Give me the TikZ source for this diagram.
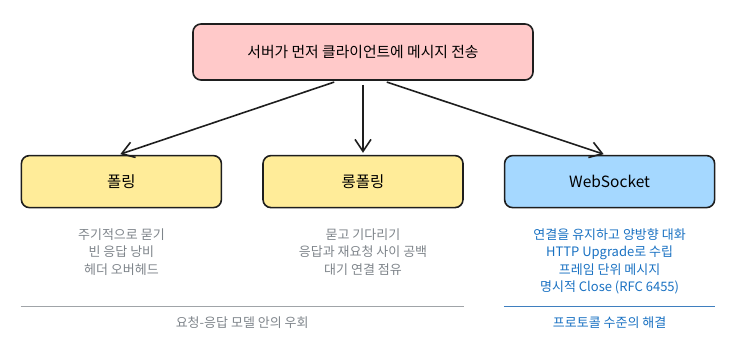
\documentclass[tikz,border=0pt]{standalone}
\usepackage{fontspec}
\setmainfont{Noto Sans CJK KR}
\usepackage{tikz}
\usetikzlibrary{positioning, calc, arrows.meta}

\definecolor{strokedark}{HTML}{1E1E1E}
\definecolor{pinkfill}{HTML}{FFC9C9}
\definecolor{yellowfill}{HTML}{FFEC99}
\definecolor{bluefill}{HTML}{A5D8FF}
\definecolor{graytext}{HTML}{7E848A}
\definecolor{bluetext}{HTML}{1971C2}
\definecolor{grayline}{HTML}{A0A4A8}
\definecolor{blueline}{HTML}{3F7FBF}

\begin{document}
\begin{tikzpicture}[
        x=1pt, y=1pt,
        node distance=74pt and 40pt,
        box_base/.style={rectangle, rounded corners=8pt, draw=strokedark, line width=1.6pt, align=center, minimum height=52pt, font=\fontsize{15.5}{18}\selectfont},
        box_top/.style={box_base, fill=pinkfill, minimum width=340pt, minimum height=56pt, font=\fontsize{14.8}{18}\selectfont},
        box_way/.style={box_base, fill=yellowfill, minimum width=200pt},
        box_ws/.style={box_base, fill=bluefill, minimum width=210pt},
        note_gray/.style={align=center, text=graytext, inner sep=0pt, font=\fontsize{13}{17.5}\selectfont},
        note_blue/.style={note_gray, text=bluetext},
        arrow/.style={-{Straight Barb[length=12pt, width=16pt]}, line width=1.6pt, draw=strokedark, shorten <=4pt, shorten >=2pt},
        divider/.style={line width=1.4pt, draw=grayline}
    ]
        \useasboundingbox (0,0) rectangle (738,-353);

        % --- NODES ---
        \node[box_top] (push) at (363,-52) {서버가 먼저 클라이언트에 메시지 전송};
        \node[box_way, below=of push] (longpoll) {롱폴링};
        \node[box_way, left=of longpoll] (polling) {폴링};
        \node[box_ws, right=of longpoll] (websocket) {WebSocket};

        \node[note_gray, below=20pt of polling] (pollnote) {주기적으로 묻기\\빈 응답 낭비\\헤더 오버헤드};
        \node[note_gray, below=20pt of longpoll] (longnote) {묻고 기다리기\\응답과 재요청 사이 공백\\대기 연결 점유};
        \node[note_blue, below=20pt of websocket] (wsnote) {연결을 유지하고 양방향 대화\\HTTP Upgrade로 수립\\프레임 단위 메시지\\명시적 Close (RFC 6455)};

        \node[note_gray] (workaround) at ($(polling.south west)!0.5!(longpoll.south east)+(0,-114)$) {요청-응답 모델 안의 우회};
        \node[note_blue] (protocol) at ($(websocket.south)+(0,-114)$) {프로토콜 수준의 해결};

        % --- CONNECTIONS ---
        \draw[arrow] ([xshift=-25pt]push.south) -- ([xshift=-3pt]polling.north);
        \draw[arrow] (push.south) -- (longpoll.north);
        \draw[arrow] ([xshift=20pt]push.south) -- ([xshift=-4pt]websocket.north);

        \draw[divider] ([yshift=-98pt]polling.south west) -- ([yshift=-98pt]longpoll.south east);
        \draw[divider, draw=blueline] ([yshift=-98pt]websocket.south west) -- ([yshift=-98pt]websocket.south east);

    \end{tikzpicture}
\end{document}
